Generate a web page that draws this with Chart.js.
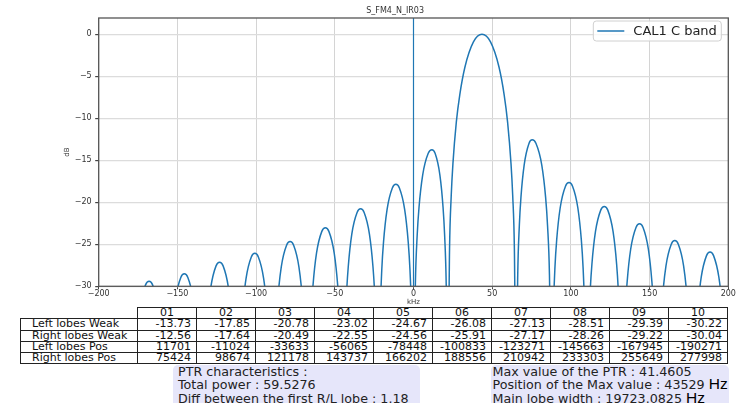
<!DOCTYPE html>
<html>
<head>
<meta charset="utf-8">
<script src="https://cdn.jsdelivr.net/npm/chart.js@4.4.1/dist/chart.umd.min.js"></script>
<style>
  html, body { margin: 0; padding: 0; background: #fff; }
  body { width: 751px; height: 403px; overflow: hidden; position: relative; font-family: 'DejaVu Sans', sans-serif; }
  #wrap { position: absolute; left: 0; top: 0; width: 751px; height: 306px; }
  #lobes { position: absolute; left: 20px; top: 307px; width: 707px; border-collapse: collapse; table-layout: fixed; font-size: 11px; color: #111; }
  #lobes td { border: 1px solid #222; height: 10.3px; line-height: 10px; padding: 0; white-space: nowrap; overflow: hidden; }
  #lobes td.corner { border: none; }
  #lobes td.head { text-align: center; }
  #lobes td.rowlab { text-align: left; padding-left: 11px; }
  #lobes td.num { text-align: right; padding-right: 5px; }
  .info { position: absolute; top: 364.5px; height: 50px; background: #e6e6fa; border-radius: 5px; font-size: 12.7px; line-height: 13.5px; color: #222; box-sizing: border-box; white-space: nowrap; }
  #infoLeft { left: 172.5px; width: 247px; padding: 0 0 0 5.5px; }
  #infoRight { left: 490.5px; width: 238px; padding: 0 0 0 2px; }
  .hz { font-family: 'Liberation Sans', sans-serif; font-size: 15.5px; line-height: 0; color: #000; }
</style>
</head>
<body>
<div id="wrap"><canvas id="myChart"></canvas></div>
<table id="lobes"></table>
<div class="info" id="infoLeft"></div>
<div class="info" id="infoRight"></div>
<script>
const chartTitle = 'S_FM4_N_IR03';
const seriesLabel = 'CAL1 C band';
const lineColor = '#1f77b4';

// spectrum (kHz, dB)
const freqKHz = [
  -201.6, -199.36, -196.0, -192.64, -190.4, -188.16, -184.8, -181.44,
  -179.2, -176.96, -175.84, -173.6, -170.24, -168.0, -165.76, -162.4, -160.16, -159.04,
  -156.8, -154.56, -153.44, -151.2, -147.84, -145.6, -143.36, -140.0, -137.76, -136.64,
  -134.4, -132.16, -131.04, -128.8, -125.44, -123.2, -120.96, -117.6, -115.36, -114.24,
  -112.0, -109.76, -108.64, -106.4, -103.04, -100.8, -98.56, -95.2, -92.96, -91.84,
  -89.6, -87.36, -86.24, -84.0, -80.64, -78.4, -76.16, -72.8, -70.56, -69.44,
  -67.2, -64.96, -63.84, -61.6, -58.24, -56.0, -53.76, -50.4, -48.16, -47.04,
  -44.8, -43.68, -42.56, -41.44, -39.2, -35.84, -33.6, -31.36, -28.0, -25.76, -24.64, -23.52,
  -22.4, -21.28, -20.16, -19.04, -16.8, -13.44, -11.2, -8.96, -5.6, -3.36, -2.24, -1.12,
  0.0, 1.17, 2.34, 3.51, 5.85, 9.36, 11.7, 13.72, 16.75, 18.77, 19.78, 20.79,
  21.8, 22.9, 23.97, 25.05, 27.2, 29.4, 32.65, 38.08, 43.5, 48.93, 54.35, 57.6, 59.78, 61.95, 63.03, 64.1,
  65.2, 66.22, 67.24, 68.26, 70.3, 73.36, 75.4, 77.84, 81.5, 83.94, 85.16, 86.38,
  87.6, 88.72, 89.84, 90.96, 93.2, 96.56, 98.8, 101.04, 104.4, 106.64, 107.76, 108.88,
  110.0, 111.12, 112.24, 113.36, 115.6, 118.96, 121.2, 123.44, 126.8, 129.04, 130.16, 131.28,
  132.4, 134.64, 135.76, 138.0, 141.36, 143.6, 145.84, 149.2, 151.44, 152.56,
  154.8, 157.04, 158.16, 160.4, 163.76, 166.0, 168.24, 171.6, 173.84, 174.96,
  177.2, 179.44, 180.56, 182.8, 186.16, 188.4, 190.64, 194.0, 196.24, 197.36,
  199.6
];
const levelDb = [
  -45, -40.42, -33.22, -30.66, -30.22, -30.66, -33.22, -40.42,
  -45, -39.59, -36.25, -32.4, -29.83, -29.39, -29.83, -32.4, -36.25, -39.59,
  -45, -38.71, -35.37, -31.52, -28.95, -28.51, -28.95, -31.52, -35.37, -38.71,
  -45, -37.33, -33.99, -30.14, -27.57, -27.13, -27.57, -30.14, -33.99, -37.33,
  -45, -36.28, -32.94, -29.09, -26.52, -26.08, -26.52, -29.09, -32.94, -36.28,
  -45, -34.87, -31.53, -27.68, -25.11, -24.67, -25.11, -27.68, -31.53, -34.87,
  -45, -33.22, -29.88, -26.03, -23.46, -23.02, -23.46, -26.03, -29.88, -33.22,
  -45, -36.88, -30.98, -27.64, -23.79, -21.22, -20.78, -21.22, -23.79, -27.64, -30.98, -36.88,
  -45, -33.95, -28.05, -24.71, -20.86, -18.29, -17.85, -18.29, -20.86, -24.71, -28.05, -33.95,
  -45, -29.83, -23.93, -20.59, -16.74, -14.17, -13.73, -14.17, -16.74, -20.59, -23.93, -29.83,
  -45, -25.6, -19.2, -15.4, -10.45, -7.2, -3.92, -0.91, 0, -0.91, -3.92, -7.2, -10.45, -15.4, -19.2, -25.6,
  -45, -28.66, -22.76, -19.42, -15.57, -13.0, -12.56, -13.0, -15.57, -19.42, -22.76, -28.66,
  -45, -33.74, -27.84, -24.5, -20.65, -18.08, -17.64, -18.08, -20.65, -24.5, -27.84, -33.74,
  -45, -36.59, -30.69, -27.35, -23.5, -20.93, -20.49, -20.93, -23.5, -27.35, -30.69, -36.59,
  -45, -32.75, -29.41, -25.56, -22.99, -22.55, -22.99, -25.56, -29.41, -32.75,
  -45, -34.76, -31.42, -27.57, -25.0, -24.56, -25.0, -27.57, -31.42, -34.76,
  -45, -36.11, -32.77, -28.92, -26.35, -25.91, -26.35, -28.92, -32.77, -36.11,
  -45
];
const markerKHz = 0;

const xTickValues = [-200, -150, -100, -50, 0, 50, 100, 150, 200];
const yTickValues = [-30, -25, -20, -15, -10, -5, 0];

// lobe table
const lobeNames = ['01', '02', '03', '04', '05', '06', '07', '08', '09', '10'];
const rowNames = ['Left lobes Weak', 'Right lobes Weak', 'Left lobes Pos', 'Right lobes Pos'];
const leftWeak = ['-13.73', '-17.85', '-20.78', '-23.02', '-24.67', '-26.08', '-27.13', '-28.51', '-29.39', '-30.22'];
const rightWeak = ['-12.56', '-17.64', '-20.49', '-22.55', '-24.56', '-25.91', '-27.17', '-28.26', '-29.22', '-30.04'];
const leftPos = [11701, -11024, -33633, -56065, -78448, -100833, -123271, -145663, -167945, -190271];
const rightPos = [75424, 98674, 121178, 143737, 166202, 188556, 210942, 233303, 255649, 277998];

const totalPower = '59.5276';
const firstLobeDiff = '1.18';
const maxValue = '41.4605';
const maxPosHz = '43529';
const mainLobeWidthHz = '19723.0825';

function minusFmt(v){
  return v < 0 ? '\u2212' + Math.abs(v) : String(v);
}

const overlay = {
  id: 'overlay',
  afterDatasetsDraw(chart){
    const c = chart.ctx;
    const a = chart.chartArea;
    const xs = chart.scales.x;
    c.save();
    // axvline at 0
    const px = xs.getPixelForValue(markerKHz);
    c.strokeStyle = lineColor;
    c.lineWidth = 1.2;
    c.beginPath();
    c.moveTo(px, a.top);
    c.lineTo(px, a.bottom);
    c.stroke();
    // frame
    c.strokeStyle = '#555';
    c.lineWidth = 1.3;
    c.strokeRect(a.left, a.top, a.right - a.left, a.bottom - a.top);
    // legend
    const bw = 128, bh = 20;
    const bx = a.right - 7 - bw, by = a.top + 3;
    c.fillStyle = 'rgba(255,255,255,0.8)';
    c.strokeStyle = '#d0d0d0';
    c.lineWidth = 1;
    c.beginPath();
    c.roundRect(bx, by, bw, bh, 3);
    c.fill();
    c.stroke();
    c.strokeStyle = lineColor;
    c.lineWidth = 1.5;
    c.beginPath();
    c.moveTo(bx + 4, by + bh / 2);
    c.lineTo(bx + 31, by + bh / 2);
    c.stroke();
    c.fillStyle = '#222';
    c.font = '13px "DejaVu Sans"';
    c.textBaseline = 'middle';
    c.fillText(chart.data.datasets[0].label, bx + 40, by + bh / 2 + 0.5);
    c.restore();
  }
};

const ctx = document.getElementById('myChart');
new Chart(ctx, {
  type: 'line',
  data: {
    datasets: [{
      label: seriesLabel,
      data: freqKHz.map((f, i) => ({x: f, y: levelDb[i]})),
      borderColor: lineColor,
      borderWidth: 1.5,
      pointRadius: 0,
      cubicInterpolationMode: 'monotone',
      capBezierPoints: false
    }]
  },
  options: {
    responsive: true,
    maintainAspectRatio: false,
    animation: false,
    layout: { padding: { left: 62, right: 22.7, top: 0, bottom: 0 } },
    plugins: {
      legend: { display: false },
      tooltip: { enabled: false },
      title: {
        display: true,
        text: chartTitle,
        color: '#333',
        font: { family: 'DejaVu Sans', size: 8, weight: 'normal' },
        padding: { top: 6.5, bottom: 1.9 }
      }
    },
    scales: {
      x: {
        type: 'linear',
        min: -200,
        max: 200,
        afterBuildTicks: s => { s.ticks = xTickValues.map(v => ({value: v})); },
        afterFit: s => { s.height = 19.7; },
        ticks: {
          callback: minusFmt,
          color: '#333',
          font: { family: 'DejaVu Sans', size: 8 },
          padding: 0,
          maxRotation: 0
        },
        grid: { color: '#d4d4d4', lineWidth: 1, tickLength: 3, tickColor: '#444' },
        border: { display: false },
        title: {
          display: true,
          text: 'kHz',
          color: '#333',
          font: { family: 'DejaVu Sans', size: 7 },
          padding: { top: 0, bottom: 0 }
        }
      },
      y: {
        min: -30,
        max: 1.94,
        afterBuildTicks: s => { s.ticks = yTickValues.map(v => ({value: v})); },
        afterFit: s => { s.width = 36.7; },
        ticks: {
          callback: minusFmt,
          color: '#333',
          font: { family: 'DejaVu Sans', size: 8 },
          padding: 3.5
        },
        grid: { color: '#dcdcdc', lineWidth: 1.2, tickLength: 3.5, tickColor: '#444' },
        border: { display: false },
        title: {
          display: true,
          text: 'dB',
          color: '#333',
          font: { family: 'DejaVu Sans', size: 7 },
          padding: { top: 0.5, bottom: 0 }
        }
      }
    }
  },
  plugins: [overlay]
});

// table under the plot
const table = document.getElementById('lobes');
const colgroup = document.createElement('colgroup');
colgroup.innerHTML = '<col style="width:117px">' + lobeNames.map(() => '<col style="width:59px">').join('');
table.appendChild(colgroup);
let html = '<tr><td class="corner"></td>' + lobeNames.map(n => '<td class="head">' + n + '</td>').join('') + '</tr>';
const rows = [leftWeak, rightWeak, leftPos, rightPos];
rows.forEach((r, i) => {
  html += '<tr><td class="rowlab">' + rowNames[i] + '</td>' + r.map(v => '<td class="num">' + v + '</td>').join('') + '</tr>';
});
table.insertAdjacentHTML('beforeend', html);

document.getElementById('infoLeft').innerHTML =
  'PTR characteristics :<br>Total power : ' + totalPower +
  '<br>Diff between the first R/L lobe : ' + firstLobeDiff;
document.getElementById('infoRight').innerHTML =
  'Max value of the PTR : ' + maxValue +
  '<br>Position of the Max value : ' + maxPosHz + ' <span class="hz">Hz</span>' +
  '<br>Main lobe width : ' + mainLobeWidthHz + ' <span class="hz">Hz</span>';
</script>
</body>
</html>
